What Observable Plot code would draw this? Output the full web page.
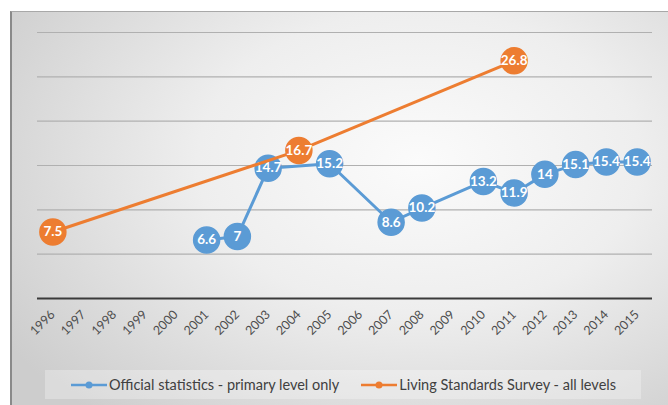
<!DOCTYPE html>
<html>
<head>
<meta charset="utf-8">
<script src="https://cdn.jsdelivr.net/npm/d3@7"></script>
<script src="https://cdn.jsdelivr.net/npm/@observablehq/plot@0.6"></script>
<style>
  html, body { margin: 0; padding: 0; background: #ffffff; }
  #frame {
    position: absolute; left: 10px; top: 11px; width: 656px; height: 394px;
    border-left: 2px solid #8a8a8a; border-top: 1px solid #a8a8a8;
    background: radial-gradient(ellipse 75% 85% at 62% 38%, #fbfbfb 0%, #eeeeee 45%, #d9d9d9 80%, #cdcdcd 100%);
    overflow: hidden;
    font-family: Lato, "Open Sans", sans-serif;
  }
  #chart { position: absolute; left: 0; top: 0; }
  #legend {
    position: absolute; left: 33px; top: 358px; width: 596px; height: 29px;
    background: rgba(255,255,255,0.28);
    display: flex; align-items: center; justify-content: center; gap: 21px;
    font-size: 14.5px; color: #404040;
  }
  .item { display: flex; align-items: center; gap: 1px; white-space: nowrap; }
</style>
</head>
<body>
<div id="frame">
  <div id="chart"></div>
  <div id="legend"></div>
</div>
<script>
const years = [1996,1997,1998,1999,2000,2001,2002,2003,2004,2005,2006,2007,2008,2009,2010,2011,2012,2013,2014,2015];
const officialYears = [2001,2002,2003,2005,2007,2008,2010,2011,2012,2013,2014,2015];
const officialValues = [6.6,7,14.7,15.2,8.6,10.2,13.2,11.9,14,15.1,15.4,15.4];
const lssYears = [1996,2004,2011];
const lssValues = [7.5,16.7,26.8];
const gridValues = [5,10,15,20,25,30];
const seriesNames = ["Official statistics - primary level only", "Living Standards Survey - all levels"];
const seriesColors = ["#5B9BD5", "#ED7D31"];

const official = officialYears.map((y, i) => ({year: y, value: officialValues[i]}));
const lss = lssYears.map((y, i) => ({year: y, value: lssValues[i]}));

const plot = Plot.plot({
  width: 656, height: 345,
  marginLeft: 25, marginRight: 16, marginTop: 20, marginBottom: 59,
  x: {type: "point", domain: years, padding: 0.5, round: false, label: null},
  y: {domain: [0, 30], axis: null},
  style: {background: "transparent", fontFamily: "Lato, 'Open Sans', sans-serif", color: "#4d4d4d"},
  marks: [
    Plot.ruleY(gridValues, {stroke: "#b0b0b0", strokeWidth: 1.2}),
    Plot.ruleY([0], {stroke: "#3a3a3a", strokeWidth: 2}),
    Plot.axisX({tickSize: 0, tickRotate: -45, tickPadding: 14, fontSize: 12.5, tickFormat: d => String(d), label: null}),
    Plot.line(official, {x: "year", y: "value", stroke: seriesColors[0], strokeWidth: 3}),
    Plot.dot(official, {x: "year", y: "value", r: 13, fill: seriesColors[0], stroke: seriesColors[0]}),
    Plot.text(official, {x: "year", y: "value", text: d => String(d.value), fill: "white", fontWeight: "bold", fontSize: 13.5}),
    Plot.line(lss, {x: "year", y: "value", stroke: seriesColors[1], strokeWidth: 3}),
    Plot.dot(lss, {x: "year", y: "value", r: 13, fill: seriesColors[1], stroke: seriesColors[1]}),
    Plot.text(lss, {x: "year", y: "value", text: d => String(d.value), fill: "white", fontWeight: "bold", fontSize: 13.5})
  ]
});
document.getElementById("chart").appendChild(plot);

const legend = document.getElementById("legend");
seriesNames.forEach((name, i) => {
  const item = document.createElement("div");
  item.className = "item";
  item.innerHTML = `<svg width="38" height="10"><line x1="1" x2="37" y1="5" y2="5" stroke="${seriesColors[i]}" stroke-width="2.5"/><circle cx="19" cy="5" r="3.5" fill="${seriesColors[i]}"/></svg><span>${name}</span>`;
  legend.appendChild(item);
});
</script>
</body>
</html>
